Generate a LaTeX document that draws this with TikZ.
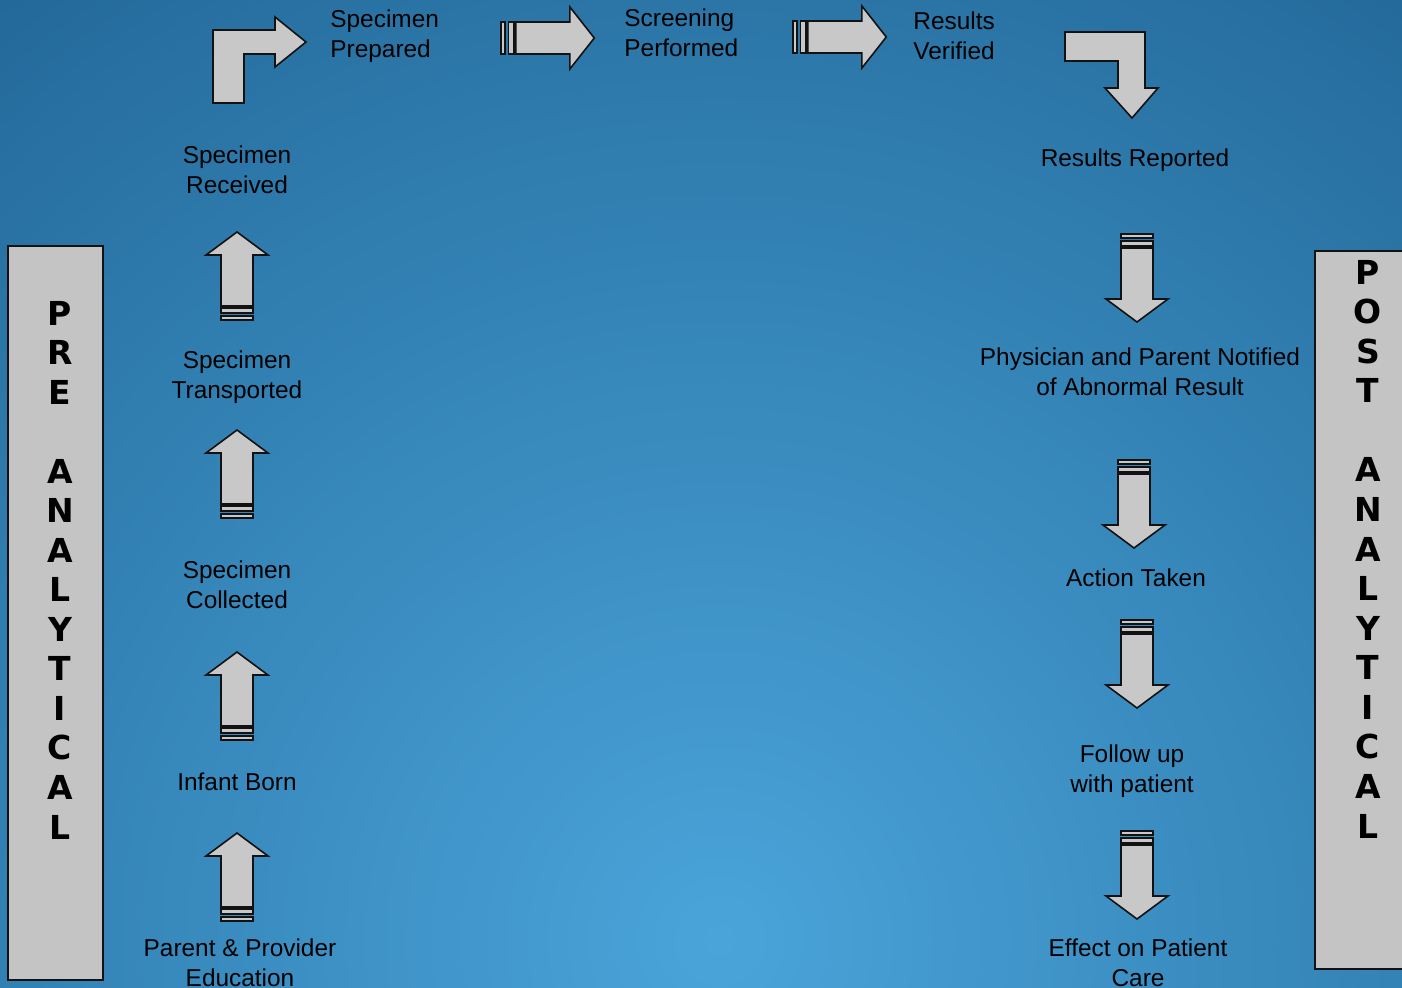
\documentclass[tikz,border=0pt]{standalone}
\usepackage{fontspec}
\setmainfont{Liberation Sans}
\newfontfamily\barfont{DejaVu Sans}
\usetikzlibrary{positioning}
\definecolor{bgdark}{RGB}{28,95,142}
\definecolor{bglight}{RGB}{74,164,218}
\definecolor{arrowgray}{RGB}{200,200,200}
\definecolor{bargray}{RGB}{196,196,196}
\definecolor{edgegray}{RGB}{18,18,18}

\tikzset{
  step text/.style={font=\fontsize{12.2}{15}\selectfont, align=center, text=black, inner sep=0pt},
  bar letter/.style={font=\barfont\bfseries\fontsize{16.5}{16.5}\selectfont, text=black, inner sep=0pt},
  sidebar/.style={draw=edgegray, fill=bargray, line width=1.25pt, minimum width=47.5pt, inner sep=0pt},
  blockarrow/.style={draw=edgegray, fill=arrowgray, line width=0.8pt, line join=miter},
  pics/stripedarrow/.style={code={
    \draw[blockarrow] (0,-16) rectangle (4,16);
    \draw[blockarrow] (7,-16) rectangle (12,16);
    \draw[blockarrow] (14,-16) -- (65,-16) -- (65,-31) -- (88,0) -- (65,31) -- (65,16) -- (14,16) -- cycle;
  }}
}

\begin{document}
\begin{tikzpicture}[x=0.5pt, y=-0.5pt]
    \useasboundingbox (0,0) rectangle (1402,987);

    % background
    \begin{scope}
        \clip (0,0) rectangle (1402,987);
        \shade[inner color=bglight, outer color=bgdark] (720,940) circle (1400);
    \end{scope}

    % side bars
    \node[sidebar, minimum height=367pt] (prebar) at (55.5,613) {};
    \node[sidebar, minimum height=359pt] (postbar) at (1362.5,610) {};
    \foreach \ch [count=\i from 0] in {P,R,E,{},A,N,A,L,Y,T,I,C,A,L}
        \node[bar letter] (pre-\i) at (60,{313+\i*39.54}) {\ch};
    \foreach \ch [count=\i from 0] in {P,O,S,T,{},A,N,A,L,Y,T,I,C,A,L}
        \node[bar letter] (post-\i) at (1368,{272+\i*39.57}) {\ch};

    % pre-analytical steps (left column, bottom to top)
    \node[step text] (education) at (240,963) {Parent \& Provider\\Education};
    \node[step text] (born) at (237,782) {Infant Born};
    \node[step text] (collected) at (237,585) {Specimen\\Collected};
    \node[step text] (transported) at (237,377) {Specimen\\Transported};
    \node[step text] (received) at (237,170) {Specimen\\Received};

    % analytical steps (top row)
    \node[step text, align=left, anchor=west] (prepared) at (330,36) {Specimen\\Prepared};
    \node[step text, align=left, anchor=west] (performed) at (624,33) {Screening\\Performed};
    \node[step text, align=left, anchor=west] (verified) at (913,36) {Results\\Verified};

    % post-analytical steps (right column, top to bottom)
    \node[step text] (reported) at (1135,160) {Results Reported};
    \node[step text] (notified) at (1140,372) {Physician and Parent Notified\\of Abnormal Result};
    \node[step text] (action) at (1136,578) {Action Taken};
    \node[step text] (followup) at (1132,771) {Follow up\\with patient};
    \node[step text] (effect) at (1138,963) {Effect on Patient\\Care};

    % up arrows
    \foreach \ty in {320,518,740,921}
        \pic[rotate=90] at (237,\ty) {stripedarrow};

    % right arrows
    \pic[xscale=1.06] at (501,38) {stripedarrow};
    \pic[xscale=1.06] at (793,37) {stripedarrow};

    % down arrows
    \pic[rotate=-90] at (1137,234) {stripedarrow};
    \pic[rotate=-90] at (1134,460) {stripedarrow};
    \pic[rotate=-90] at (1137,620) {stripedarrow};
    \pic[rotate=-90] at (1137,831) {stripedarrow};

    % bent arrows
    \draw[blockarrow] (213,103) -- (213,30) -- (275,30) -- (275,17) -- (306,42)
        -- (275,67) -- (275,54) -- (244,54) -- (244,103) -- cycle;
    \draw[blockarrow] (1065,32) -- (1145,32) -- (1145,88) -- (1158,88) -- (1132,118)
        -- (1105,88) -- (1118,88) -- (1118,61) -- (1065,61) -- cycle;
\end{tikzpicture}
\end{document}
